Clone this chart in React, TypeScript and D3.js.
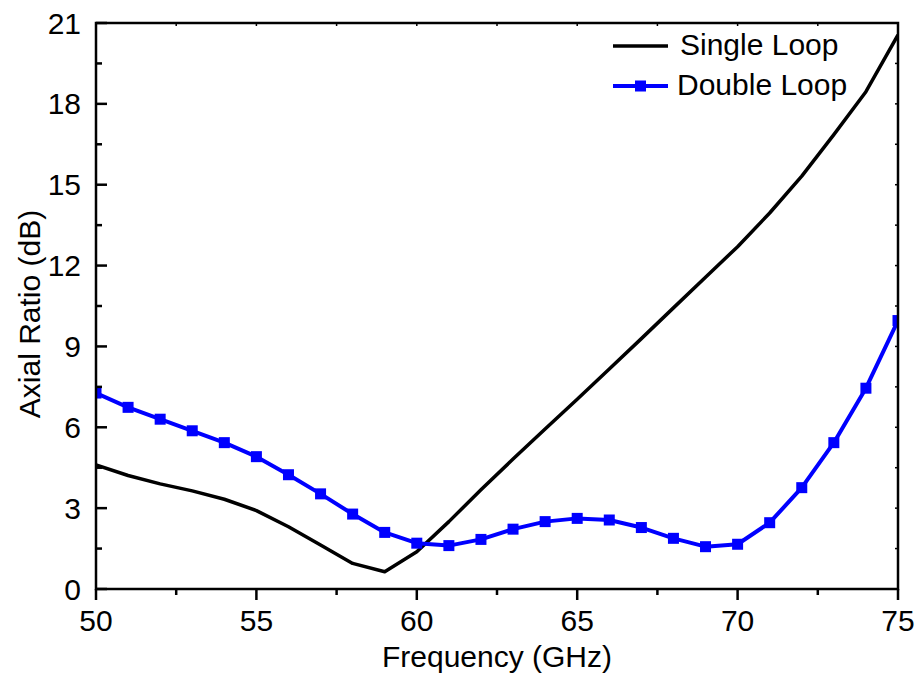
import React from "react";
import * as d3 from "d3";

const freq = [50, 51, 52, 53, 54, 55, 56, 57, 58, 59, 60, 61, 62, 63, 64, 65, 66, 67, 68, 69, 70, 71, 72, 73, 74, 75];
const singleLoop = [4.6, 4.21, 3.9, 3.64, 3.33, 2.91, 2.31, 1.63, 0.95, 0.64, 1.38, 2.5, 3.68, 4.82, 5.94, 7.04, 8.16, 9.29, 10.43, 11.57, 12.7, 13.95, 15.32, 16.86, 18.45, 20.56];
const doubleLoop = [7.27, 6.74, 6.3, 5.87, 5.43, 4.91, 4.24, 3.53, 2.78, 2.1, 1.7, 1.61, 1.84, 2.22, 2.5, 2.62, 2.56, 2.28, 1.88, 1.57, 1.66, 2.46, 3.76, 5.43, 7.45, 9.96];
const xTicks = [50, 55, 60, 65, 70, 75];
const xMinor = [52.5, 57.5, 62.5, 67.5, 72.5];
const yTicks = [0, 3, 6, 9, 12, 15, 18, 21];
const yMinor = [1.5, 4.5, 7.5, 10.5, 13.5, 16.5, 19.5];
const seriesNames = ["Single Loop", "Double Loop"];

const W = 918, H = 684;
const L = 96, R = 898, T = 23, B = 589;
const FONT = "'Liberation Sans', Arial, sans-serif";

export default function App() {
  const x = d3.scaleLinear().domain([50, 75]).range([L, R]);
  const y = d3.scaleLinear().domain([0, 21]).range([B, T]);
  const line = d3.line<number>().x((_, i) => x(freq[i])).y((d) => y(d));
  const allY = [...yTicks, ...yMinor];
  const allX = [...xTicks, ...xMinor];
  return (
    <svg width={W} height={H} style={{ position: "absolute", left: 0, top: 0, background: "#fff" }} fontFamily={FONT}>
      <defs>
        <clipPath id="plotclip">
          <rect x={L} y={T} width={R - L} height={B - T} />
        </clipPath>
      </defs>
      <rect x={0} y={0} width={W} height={H} fill="#fff" />
      <g clipPath="url(#plotclip)">
        <path d={line(singleLoop) || ""} fill="none" stroke="#000" strokeWidth={3.5} strokeLinejoin="round" />
        <path d={line(doubleLoop) || ""} fill="none" stroke="#0000ff" strokeWidth={4} strokeLinejoin="round" />
        {doubleLoop.map((v, i) => (
          <rect key={i} x={x(freq[i]) - 5.5} y={y(v) - 5.5} width={11} height={11} fill="#0000ff" />
        ))}
      </g>
      <rect x={L} y={T} width={R - L} height={B - T} fill="none" stroke="#000" strokeWidth={2.5} />
      {xTicks.map((t) => (
        <line key={"xb" + t} x1={x(t)} x2={x(t)} y1={B} y2={B + 11} stroke="#000" strokeWidth={2.5} />
      ))}
      {xMinor.map((t) => (
        <line key={"xm" + t} x1={x(t)} x2={x(t)} y1={B} y2={B + 6} stroke="#000" strokeWidth={2.5} />
      ))}
      {allX.map((t) => (
        <line key={"xt" + t} x1={x(t)} x2={x(t)} y1={T} y2={T + 3} stroke="#000" strokeWidth={1.5} />
      ))}
      {yTicks.map((t) => (
        <line key={"yl" + t} x1={L} x2={L + 11} y1={y(t)} y2={y(t)} stroke="#000" strokeWidth={2.5} />
      ))}
      {yMinor.map((t) => (
        <line key={"ym" + t} x1={L} x2={L + 6} y1={y(t)} y2={y(t)} stroke="#000" strokeWidth={2.5} />
      ))}
      {allY.map((t) => (
        <line key={"yr" + t} x1={R} x2={R - 3} y1={y(t)} y2={y(t)} stroke="#000" strokeWidth={1.5} />
      ))}
      {xTicks.map((t) => (
        <text key={"xl" + t} x={x(t)} y={631} textAnchor="middle" fontSize={30} fill="#000">{t}</text>
      ))}
      {yTicks.map((t) => (
        <text key={"ylb" + t} x={81} y={y(t) + 10.5} textAnchor="end" fontSize={30} fill="#000">{t}</text>
      ))}
      <text x={(L + R) / 2} y={667} textAnchor="middle" fontSize={30} fill="#000">Frequency (GHz)</text>
      <text transform={`translate(40, 314) rotate(-90)`} textAnchor="middle" fontSize={30} fill="#000">Axial Ratio (dB)</text>
      <line x1={613} x2={668} y1={46} y2={46} stroke="#000" strokeWidth={3.5} />
      <text x={680} y={55} fontSize={30} fill="#000">{seriesNames[0]}</text>
      <line x1={613} x2={668} y1={86} y2={86} stroke="#0000ff" strokeWidth={4} />
      <rect x={640.5 - 5.5} y={86 - 5.5} width={11} height={11} fill="#0000ff" />
      <text x={677} y={95} fontSize={30} fill="#000">{seriesNames[1]}</text>
    </svg>
  );
}
